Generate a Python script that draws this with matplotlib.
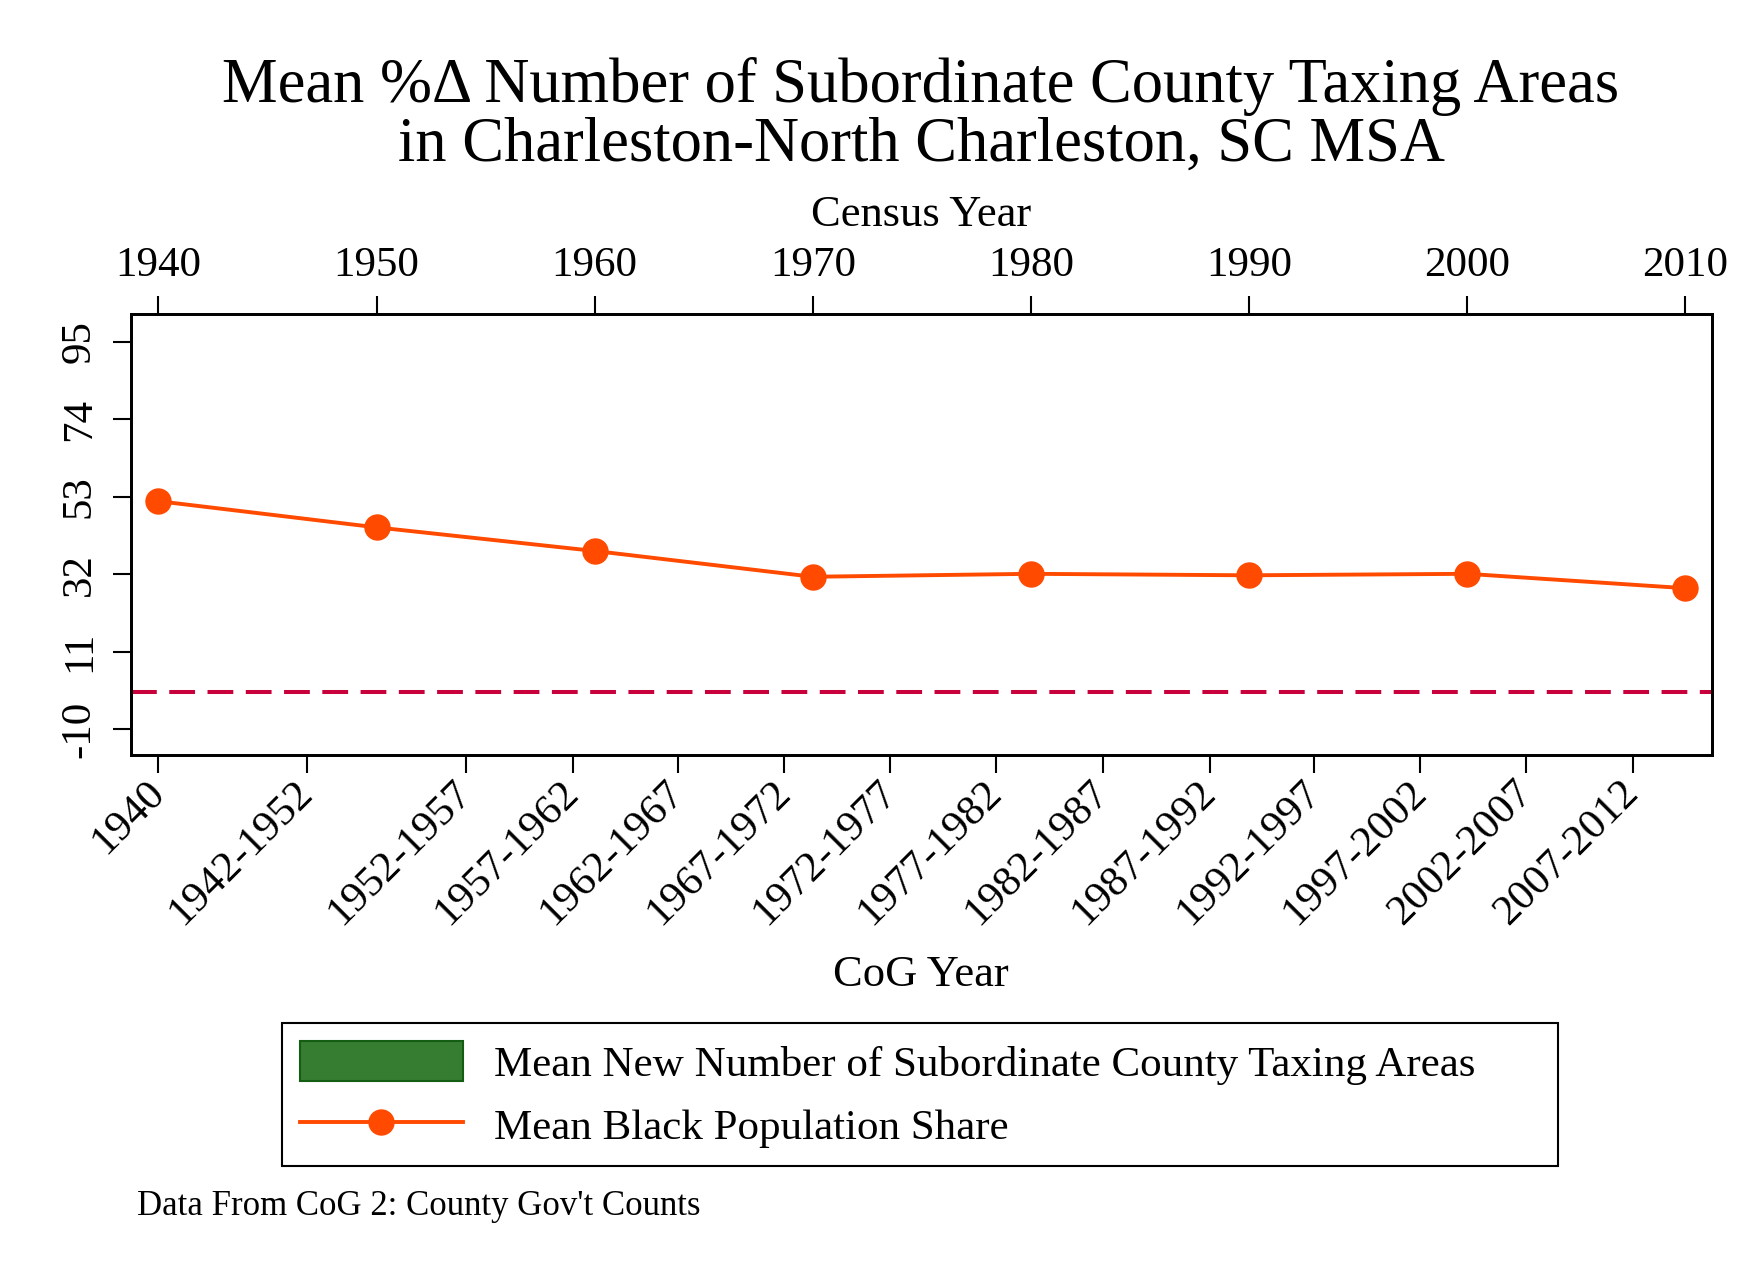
import matplotlib.pyplot as plt
from matplotlib.patches import Patch
from matplotlib.lines import Line2D

plt.rcParams['font.family'] = ['Liberation Serif', 'DejaVu Serif']

# Census years and mean black population share
census_years = [1940, 1950, 1960, 1970, 1980, 1990, 2000, 2010]
black_share = [51.8, 44.7, 38.3, 31.3, 32.1, 31.7, 32.1, 28.2]

# CoG period labels for the lower axis
cog_labels = ['1940', '1942-1952', '1952-1957', '1957-1962', '1962-1967',
              '1967-1972', '1972-1977', '1977-1982', '1982-1987', '1987-1992',
              '1992-1997', '1997-2002', '2002-2007', '2007-2012']
cog_tick_pos = [1940, 1946.8, 1954.1, 1959.0, 1963.8, 1968.7, 1973.55,
                1978.4, 1983.3, 1988.2, 1993.0, 1997.85, 2002.7, 2007.6]

y_ticks = [-10, 11, 32, 53, 74, 95]
ref_line = 0

orange = '#ff4a00'
fs = 31

fig = plt.figure(figsize=(17.58, 12.78), dpi=100)
ax = fig.add_axes([0.07435, 0.40923, 0.89932, 0.34484])
ax2 = ax.twiny()

ax.plot(census_years, black_share, color=orange, lw=2.8, marker='o',
        markersize=18, zorder=3)
ax.axhline(ref_line, color='#c8003c', lw=2.9, dashes=(6.4, 3.1), zorder=2)

ax.set_xlim(1938.73, 2011.21)
ax.set_ylim(-17.05, 102.5)

# top axis: census year
ax.xaxis.tick_top()
ax.set_xticks(census_years)
ax.set_xticklabels([str(y) for y in census_years])
ax.set_yticks(y_ticks)
ax.set_yticklabels([str(v) for v in y_ticks], rotation=90, va='center')
ax.tick_params(axis='both', labelsize=fs, length=13, width=1.5, direction='out')
ax.tick_params(axis='x', pad=8)
ax.tick_params(axis='y', pad=10)
for s in ax.spines.values():
    s.set_linewidth(2)

# bottom axis: CoG year
ax2.set_xlim(ax.get_xlim())
ax2.xaxis.tick_bottom()
ax2.set_xticks(cog_tick_pos)
ax2.set_xticklabels(cog_labels, rotation=45, ha='right', va='center',
                    rotation_mode='anchor')
ax2.tick_params(axis='x', labelsize=fs, length=13, width=1.5, pad=10)
for s in ax2.spines.values():
    s.set_linewidth(2)

ax.text(0.5, 1.2253, 'Census Year', transform=ax.transAxes, ha='center',
        va='center', fontsize=32)
ax.text(0.5, -0.499, 'CoG Year', transform=ax.transAxes, ha='center',
        va='center', fontsize=32)

fig.text(0.5239, 0.9320, 'Mean %\u0394 Number of Subordinate County Taxing Areas',
         ha='center', va='center', fontsize=45)
fig.text(0.5239, 0.8860, 'in Charleston-North Charleston, SC MSA',
         ha='center', va='center', fontsize=45)

handles = [Patch(facecolor='#367d32', edgecolor='#135e13', lw=1.5),
           Line2D([], [], color=orange, lw=2.8, marker='o', markersize=18)]
labels = ['Mean New Number of Subordinate County Taxing Areas',
          'Mean Black Population Share']
leg = fig.legend(handles, labels, loc='upper left',
                 bbox_to_anchor=(0.1605, 0.0, 0.7258, 0.1995),
                 bbox_transform=fig.transFigure, mode='expand',
                 borderaxespad=0, fontsize=fs, handlelength=3.79,
                 handleheight=1.08, handletextpad=0.72, labelspacing=0.45,
                 borderpad=0.41, fancybox=False, framealpha=1,
                 edgecolor='black')
leg.get_frame().set_linewidth(1.5)

fig.text(0.0778, 0.0556, "Data From CoG 2: County Gov't Counts",
         ha='left', va='center', fontsize=25)

fig.savefig('out.png', dpi=100)
